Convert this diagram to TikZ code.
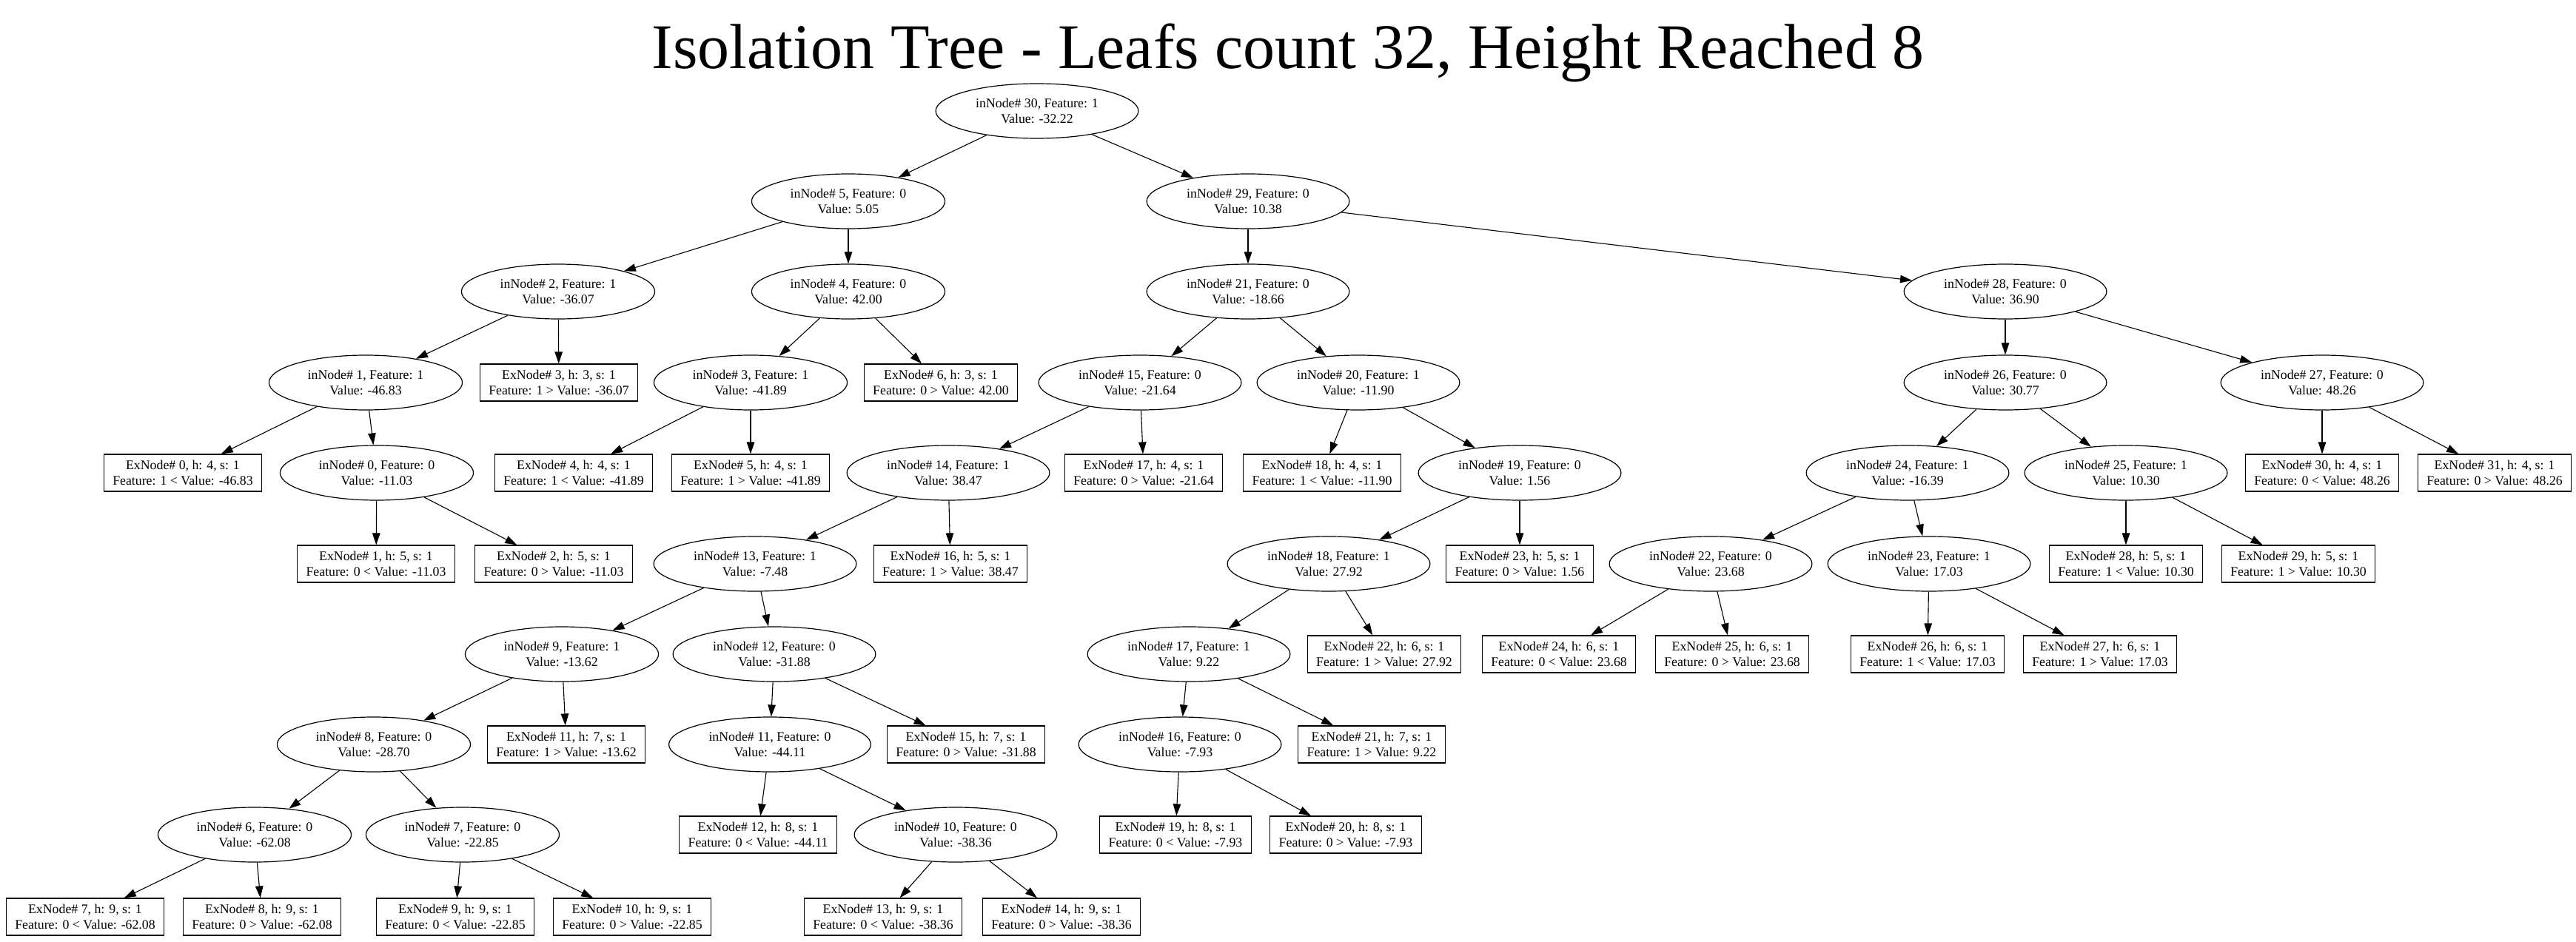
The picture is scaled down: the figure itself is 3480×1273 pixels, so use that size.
\documentclass[tikz,border=0pt]{standalone}
\usepackage{fontspec}
\usetikzlibrary{shapes.geometric,arrows.meta}
\newfontfamily\nf{Liberation Serif}
\tikzset{
  inn/.style={ellipse, draw, line width=1.2pt, inner xsep=14pt, inner ysep=0pt,
    minimum height=74pt, align=center, font=\nf\fontsize{17.8}{20.5}\selectfont},
  exn/.style={rectangle, draw, line width=1.2pt, inner xsep=12pt, inner ysep=0pt,
    minimum height=50pt, align=center, font=\nf\fontsize{17.8}{20.5}\selectfont},
  edge/.style={line width=1.1pt, -{Triangle[length=16pt,width=10.5pt]}}
}
\begin{document}
\begin{tikzpicture}[x=1pt,y=-1pt]
\fill[white] (0,0) rectangle (3480,1273);
\useasboundingbox (0,0) rectangle (3480,1273);
\node[anchor=base, font=\nf\fontsize{86}{100}\selectfont] (title) at (1740,93) {Isolation Tree - Leafs count 32, Height Reached 8};
% level 0
\node[inn] (i30) at (1401,150) {inNode\# 30, Feature: 1\\Value: -32.22};
% level 1
\node[inn] (i5) at (1146,272) {inNode\# 5, Feature: 0\\Value: 5.05};
\node[inn] (i29) at (1686,272) {inNode\# 29, Feature: 0\\Value: 10.38};
% level 2
\node[inn] (i2) at (754,394) {inNode\# 2, Feature: 1\\Value: -36.07};
\node[inn] (i4) at (1146,394) {inNode\# 4, Feature: 0\\Value: 42.00};
\node[inn] (i21) at (1686,394) {inNode\# 21, Feature: 0\\Value: -18.66};
\node[inn] (i28) at (2709,394) {inNode\# 28, Feature: 0\\Value: 36.90};
% level 3
\node[inn] (i1) at (494,517) {inNode\# 1, Feature: 1\\Value: -46.83};
\node[exn] (e3) at (755,517) {ExNode\# 3, h: 3, s: 1\\Feature: 1 > Value: -36.07};
\node[inn] (i3) at (1014,517) {inNode\# 3, Feature: 1\\Value: -41.89};
\node[exn] (e6) at (1271,517) {ExNode\# 6, h: 3, s: 1\\Feature: 0 > Value: 42.00};
\node[inn] (i15) at (1540,517) {inNode\# 15, Feature: 0\\Value: -21.64};
\node[inn] (i20) at (1835,517) {inNode\# 20, Feature: 1\\Value: -11.90};
\node[inn] (i26) at (2709,517) {inNode\# 26, Feature: 0\\Value: 30.77};
\node[inn] (i27) at (3137,517) {inNode\# 27, Feature: 0\\Value: 48.26};
% level 4
\node[exn] (e0) at (247,639) {ExNode\# 0, h: 4, s: 1\\Feature: 1 < Value: -46.83};
\node[inn] (i0) at (509,639) {inNode\# 0, Feature: 0\\Value: -11.03};
\node[exn] (e4) at (775,639) {ExNode\# 4, h: 4, s: 1\\Feature: 1 < Value: -41.89};
\node[exn] (e5) at (1014,639) {ExNode\# 5, h: 4, s: 1\\Feature: 1 > Value: -41.89};
\node[inn] (i14) at (1281,639) {inNode\# 14, Feature: 1\\Value: 38.47};
\node[exn] (e17) at (1545,639) {ExNode\# 17, h: 4, s: 1\\Feature: 0 > Value: -21.64};
\node[exn] (e18) at (1786,639) {ExNode\# 18, h: 4, s: 1\\Feature: 1 < Value: -11.90};
\node[inn] (i19) at (2053,639) {inNode\# 19, Feature: 0\\Value: 1.56};
\node[inn] (i24) at (2577,639) {inNode\# 24, Feature: 1\\Value: -16.39};
\node[inn] (i25) at (2872,639) {inNode\# 25, Feature: 1\\Value: 10.30};
\node[exn] (e30) at (3137,639) {ExNode\# 30, h: 4, s: 1\\Feature: 0 < Value: 48.26};
\node[exn] (e31) at (3370,639) {ExNode\# 31, h: 4, s: 1\\Feature: 0 > Value: 48.26};
% level 5
\node[exn] (e1) at (508,762) {ExNode\# 1, h: 5, s: 1\\Feature: 0 < Value: -11.03};
\node[exn] (e2) at (748,762) {ExNode\# 2, h: 5, s: 1\\Feature: 0 > Value: -11.03};
\node[inn] (i13) at (1020,762) {inNode\# 13, Feature: 1\\Value: -7.48};
\node[exn] (e16) at (1284,762) {ExNode\# 16, h: 5, s: 1\\Feature: 1 > Value: 38.47};
\node[inn] (i18) at (1795,762) {inNode\# 18, Feature: 1\\Value: 27.92};
\node[exn] (e23) at (2053,762) {ExNode\# 23, h: 5, s: 1\\Feature: 0 > Value: 1.56};
\node[inn] (i22) at (2311,762) {inNode\# 22, Feature: 0\\Value: 23.68};
\node[inn] (i23) at (2606,762) {inNode\# 23, Feature: 1\\Value: 17.03};
\node[exn] (e28) at (2872,762) {ExNode\# 28, h: 5, s: 1\\Feature: 1 < Value: 10.30};
\node[exn] (e29) at (3105,762) {ExNode\# 29, h: 5, s: 1\\Feature: 1 > Value: 10.30};
% level 6
\node[inn] (i9) at (759,884) {inNode\# 9, Feature: 1\\Value: -13.62};
\node[inn] (i12) at (1046,884) {inNode\# 12, Feature: 0\\Value: -31.88};
\node[inn] (i17) at (1606,884) {inNode\# 17, Feature: 1\\Value: 9.22};
\node[exn] (e22) at (1870,884) {ExNode\# 22, h: 6, s: 1\\Feature: 1 > Value: 27.92};
\node[exn] (e24) at (2106,884) {ExNode\# 24, h: 6, s: 1\\Feature: 0 < Value: 23.68};
\node[exn] (e25) at (2340,884) {ExNode\# 25, h: 6, s: 1\\Feature: 0 > Value: 23.68};
\node[exn] (e26) at (2604,884) {ExNode\# 26, h: 6, s: 1\\Feature: 1 < Value: 17.03};
\node[exn] (e27) at (2837,884) {ExNode\# 27, h: 6, s: 1\\Feature: 1 > Value: 17.03};
% level 7
\node[inn] (i8) at (505,1006) {inNode\# 8, Feature: 0\\Value: -28.70};
\node[exn] (e11) at (765,1006) {ExNode\# 11, h: 7, s: 1\\Feature: 1 > Value: -13.62};
\node[inn] (i11) at (1040,1006) {inNode\# 11, Feature: 0\\Value: -44.11};
\node[exn] (e15) at (1305,1006) {ExNode\# 15, h: 7, s: 1\\Feature: 0 > Value: -31.88};
\node[inn] (i16) at (1594,1006) {inNode\# 16, Feature: 0\\Value: -7.93};
\node[exn] (e21) at (1853,1006) {ExNode\# 21, h: 7, s: 1\\Feature: 1 > Value: 9.22};
% level 8
\node[inn] (i6) at (344,1128) {inNode\# 6, Feature: 0\\Value: -62.08};
\node[inn] (i7) at (625,1128) {inNode\# 7, Feature: 0\\Value: -22.85};
\node[exn] (e12) at (1024,1128) {ExNode\# 12, h: 8, s: 1\\Feature: 0 < Value: -44.11};
\node[inn] (i10) at (1291,1128) {inNode\# 10, Feature: 0\\Value: -38.36};
\node[exn] (e19) at (1588,1128) {ExNode\# 19, h: 8, s: 1\\Feature: 0 < Value: -7.93};
\node[exn] (e20) at (1818,1128) {ExNode\# 20, h: 8, s: 1\\Feature: 0 > Value: -7.93};
% level 9
\node[exn] (e7) at (115,1239) {ExNode\# 7, h: 9, s: 1\\Feature: 0 < Value: -62.08};
\node[exn] (e8) at (354,1239) {ExNode\# 8, h: 9, s: 1\\Feature: 0 > Value: -62.08};
\node[exn] (e9) at (615,1239) {ExNode\# 9, h: 9, s: 1\\Feature: 0 < Value: -22.85};
\node[exn] (e10) at (854,1239) {ExNode\# 10, h: 9, s: 1\\Feature: 0 > Value: -22.85};
\node[exn] (e13) at (1193,1239) {ExNode\# 13, h: 9, s: 1\\Feature: 0 < Value: -38.36};
\node[exn] (e14) at (1434,1239) {ExNode\# 14, h: 9, s: 1\\Feature: 0 > Value: -38.36};
% edges
\foreach \a/\b in {i30/i5,i30/i29,i5/i2,i5/i4,i29/i21,i29/i28,i2/i1,i2/e3,i4/i3,i4/e6,
  i21/i15,i21/i20,i28/i26,i28/i27,i1/e0,i1/i0,i3/e4,i3/e5,i15/i14,i15/e17,i20/e18,i20/i19,
  i26/i24,i26/i25,i27/e30,i27/e31,i0/e1,i0/e2,i14/i13,i14/e16,i19/i18,i19/e23,i24/i22,i24/i23,
  i25/e28,i25/e29,i13/i9,i13/i12,i18/i17,i18/e22,i22/e24,i22/e25,i23/e26,i23/e27,i9/i8,i9/e11,
  i12/i11,i12/e15,i17/i16,i17/e21,i8/i6,i8/i7,i11/e12,i11/i10,i16/e19,i16/e20,i6/e7,i6/e8,
  i7/e9,i7/e10,i10/e13,i10/e14}
  \draw[edge] (\a) -- (\b);
\end{tikzpicture}
\end{document}
